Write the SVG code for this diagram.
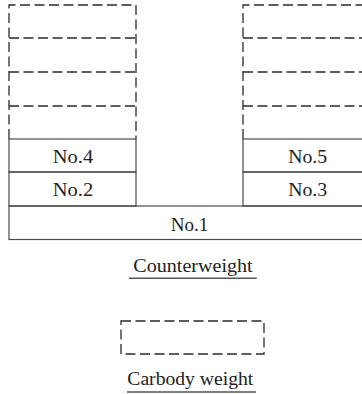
<svg xmlns="http://www.w3.org/2000/svg" width="362" height="394" viewBox="0 0 362 394">
<style>
.s{fill:none;stroke:#4a4a4a;stroke-width:1.2}
.d{fill:none;stroke:#2a2a2a;stroke-width:1.3;stroke-dasharray:10,4.5}
.t{font-family:"Liberation Serif","Times New Roman",serif;font-size:18px;fill:#222;text-anchor:middle}
.u{stroke:#555;stroke-width:1.5}
</style>
<rect width="362" height="394" fill="#fff"/>
<g id="left-stack-dashed">
<path class="d" d="M9,139 V5 H136 V139"/>
<path class="d" d="M9,38 H136 M9,72 H136 M9,106 H136"/>
</g>
<g id="right-stack-dashed">
<path class="d" d="M243,139 V5 H370"/>
<path class="d" d="M243,38 H370 M243,72 H370 M243,106 H370"/>
</g>
<g id="no4">
<rect class="s" x="9" y="139" width="127" height="33"/>
<text class="t" x="73" y="162.5" textLength="40.5" lengthAdjust="spacingAndGlyphs">No.4</text>
</g>
<g id="no2">
<rect class="s" x="9" y="172" width="127" height="34"/>
<text class="t" x="73" y="196" textLength="40.5" lengthAdjust="spacingAndGlyphs">No.2</text>
</g>
<g id="no5">
<rect class="s" x="243" y="139" width="130" height="33"/>
<text class="t" x="307.7" y="162.5" textLength="39" lengthAdjust="spacingAndGlyphs">No.5</text>
</g>
<g id="no3">
<rect class="s" x="243" y="172" width="130" height="34"/>
<text class="t" x="307.7" y="196" textLength="39" lengthAdjust="spacingAndGlyphs">No.3</text>
</g>
<g id="no1">
<rect class="s" x="9" y="206" width="364" height="33.5"/>
<text class="t" x="189.5" y="231" textLength="37.6" lengthAdjust="spacingAndGlyphs">No.1</text>
</g>
<g id="counterweight-label">
<text class="t" x="193" y="272.3" textLength="119.4" lengthAdjust="spacingAndGlyphs">Counterweight</text>
<line class="u" x1="129" y1="278.3" x2="256.7" y2="278.3"/>
</g>
<g id="carbody-box">
<rect class="d" x="121" y="321" width="143" height="33"/>
</g>
<g id="carbody-label">
<text class="t" x="190.3" y="385" textLength="126" lengthAdjust="spacingAndGlyphs">Carbody weight</text>
<line class="u" x1="127" y1="392" x2="256" y2="392"/>
</g>
<g id="connectors"></g>
</svg>
